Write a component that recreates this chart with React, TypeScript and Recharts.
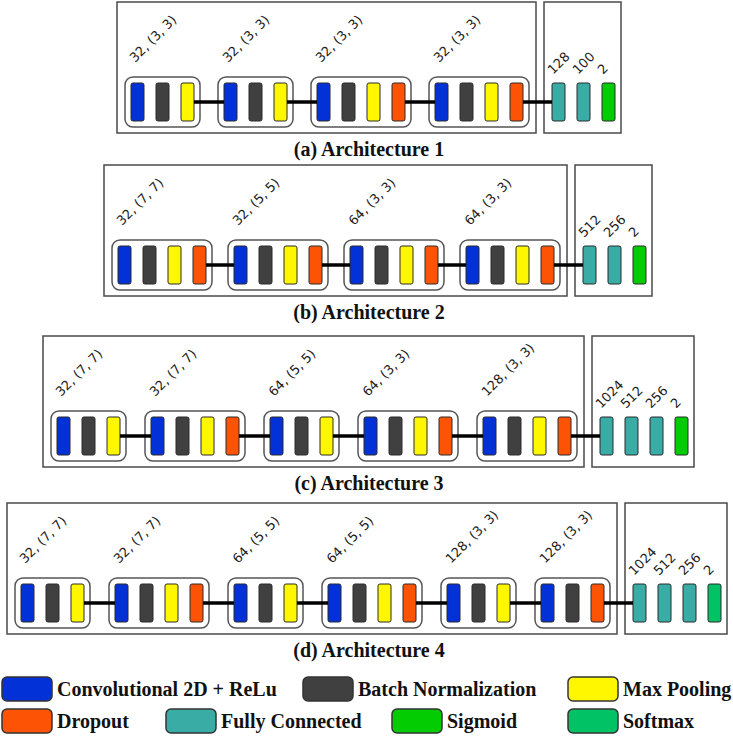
import React from 'react';
import {
  ComposedChart,
  XAxis,
  YAxis,
  ReferenceArea,
  ReferenceLine,
  ReferenceDot,
} from 'recharts';

const W = 733;
const H = 736;

// network description
const captions = ['(a) Architecture 1', '(b) Architecture 2', '(c) Architecture 3', '(d) Architecture 4'];

const arch1Filters = ['32, (3, 3)', '32, (3, 3)', '32, (3, 3)', '32, (3, 3)'];
const arch1Blocks = [
  ['conv', 'bn', 'pool'],
  ['conv', 'bn', 'pool'],
  ['conv', 'bn', 'pool', 'drop'],
  ['conv', 'bn', 'pool', 'drop'],
];
const arch1Dense = ['128', '100', '2'];

const arch2Filters = ['32, (7, 7)', '32, (5, 5)', '64, (3, 3)', '64, (3, 3)'];
const arch2Blocks = [
  ['conv', 'bn', 'pool', 'drop'],
  ['conv', 'bn', 'pool', 'drop'],
  ['conv', 'bn', 'pool', 'drop'],
  ['conv', 'bn', 'pool', 'drop'],
];
const arch2Dense = ['512', '256', '2'];

const arch3Filters = ['32, (7, 7)', '32, (7, 7)', '64, (5, 5)', '64, (3, 3)', '128, (3, 3)'];
const arch3Blocks = [
  ['conv', 'bn', 'pool'],
  ['conv', 'bn', 'pool', 'drop'],
  ['conv', 'bn', 'pool'],
  ['conv', 'bn', 'pool', 'drop'],
  ['conv', 'bn', 'pool', 'drop'],
];
const arch3Dense = ['1024', '512', '256', '2'];

const arch4Filters = ['32, (7, 7)', '32, (7, 7)', '64, (5, 5)', '64, (5, 5)', '128, (3, 3)', '128, (3, 3)'];
const arch4Blocks = [
  ['conv', 'bn', 'pool'],
  ['conv', 'bn', 'pool', 'drop'],
  ['conv', 'bn', 'pool'],
  ['conv', 'bn', 'pool', 'drop'],
  ['conv', 'bn', 'pool'],
  ['conv', 'bn', 'drop'],
];
const arch4Dense = ['1024', '512', '256', '2'];

const outputs = ['sigmoid', 'sigmoid', 'sigmoid', 'softmax'];

const legendKeys = ['conv', 'bn', 'pool', 'drop', 'fc', 'sigmoid', 'softmax'];
const legendNames = [
  'Convolutional 2D + ReLu',
  'Batch Normalization',
  'Max Pooling',
  'Dropout',
  'Fully Connected',
  'Sigmoid',
  'Softmax',
];

const archs = [
  { filters: arch1Filters, blocks: arch1Blocks, dense: arch1Dense },
  { filters: arch2Filters, blocks: arch2Blocks, dense: arch2Dense },
  { filters: arch3Filters, blocks: arch3Blocks, dense: arch3Dense },
  { filters: arch4Filters, blocks: arch4Blocks, dense: arch4Dense },
];

const COLORS: Record<string, string> = {
  conv: '#0231d8',
  bn: '#404040',
  pool: '#fff700',
  drop: '#fc5304',
  fc: '#38aca5',
  sigmoid: '#03cc03',
  softmax: '#02c266',
};

// layout (in chart units, 1 unit = 1px)
const ROW_TOP = [2, 165, 336, 503];
const ROW_X0 = [131, 118, 57, 21];
const ROW_GAP = [43, 41, 44, 44];
const LAYER_W = 13;
const PITCH = 25;
const CAPTION_X = 369;
const LEGEND_X = [2, 303, 568, 2, 166, 392, 568];
const LEGEND_Y = [677, 677, 677, 709, 709, 709, 709];

type Box = { x1: number; x2: number; y1: number; y2: number; fill: string; stroke: string; sw: number; rx: number };
type Seg = { x1: number; x2: number; y: number };
type Txt = { x: number; y: number; text: string; kind: 'layer' | 'caption' | 'legend' };

const rectShape = (rx: number) => (p: any) => (
  <rect
    x={p.x}
    y={p.y}
    width={p.width}
    height={p.height}
    rx={rx}
    ry={rx}
    fill={p.fill}
    stroke={p.stroke}
    strokeWidth={p.strokeWidth}
  />
);

const textShape = (t: Txt) => (p: any) => {
  if (t.kind === 'layer') {
    return (
      <text
        x={p.cx}
        y={p.cy}
        transform={`rotate(-45 ${p.cx} ${p.cy})`}
        fontFamily="'DejaVu Sans', sans-serif"
        fontSize={13}
        fill="#1a1a1a"
      >
        {t.text}
      </text>
    );
  }
  return (
    <text
      x={p.cx}
      y={p.cy}
      textAnchor={t.kind === 'caption' ? 'middle' : 'start'}
      dominantBaseline="central"
      fontFamily="'Liberation Serif', 'Times New Roman', serif"
      fontWeight="bold"
      fontSize={20}
      fill="#111"
    >
      {t.text}
    </text>
  );
};

function buildLayout() {
  const boxes: Box[] = [];
  const frames: Box[] = [];
  const layers: Box[] = [];
  const segs: Seg[] = [];
  const texts: Txt[] = [];

  archs.forEach((a, i) => {
    const T = ROW_TOP[i];
    const lTop = T + 81;
    const lBot = T + 119;
    const mid = T + 100;
    let x = ROW_X0[i];
    let prevEnd: number | null = null;

    a.blocks.forEach((blk, b) => {
      const first = x;
      const last = x + (blk.length - 1) * PITCH;
      if (prevEnd !== null) segs.push({ x1: prevEnd, x2: first, y: mid });
      boxes.push({ x1: first - 6, x2: last + LAYER_W + 6, y1: T + 75, y2: T + 125, fill: '#fff', stroke: '#555', sw: 1.5, rx: 8 });
      blk.forEach((k, j) => {
        const lx = first + j * PITCH;
        layers.push({ x1: lx, x2: lx + LAYER_W, y1: lTop, y2: lBot, fill: COLORS[k], stroke: '#2b2b2b', sw: 1, rx: 2 });
      });
      texts.push({ x: first + 4, y: T + 61, text: a.filters[b], kind: 'layer' });
      prevEnd = last + LAYER_W;
      x = last + ROW_GAP[i];
    });

    const lastConv = x - ROW_GAP[i];
    frames.push({ x1: ROW_X0[i] - 14, x2: lastConv + 26, y1: T, y2: T + 131, fill: '#fff', stroke: '#4a4a4a', sw: 1.5, rx: 0 });

    const fc0 = lastConv + 42;
    segs.push({ x1: lastConv + LAYER_W, x2: fc0, y: mid });
    a.dense.forEach((u, j) => {
      const lx = fc0 + j * PITCH;
      const kind = j === a.dense.length - 1 ? outputs[i] : 'fc';
      layers.push({ x1: lx, x2: lx + LAYER_W, y1: lTop, y2: lBot, fill: COLORS[kind], stroke: '#2b2b2b', sw: 1, rx: 2 });
      texts.push({ x: lx + 1, y: lTop - 8, text: u, kind: 'layer' });
    });
    const fcEnd = fc0 + (a.dense.length - 1) * PITCH + LAYER_W;
    frames.push({ x1: lastConv + 34, x2: fcEnd + 6, y1: T, y2: T + 131, fill: '#fff', stroke: '#4a4a4a', sw: 1.5, rx: 0 });

    texts.push({ x: CAPTION_X, y: T + 147, text: captions[i], kind: 'caption' });
  });

  legendKeys.forEach((k, i) => {
    const lx = LEGEND_X[i];
    const ly = LEGEND_Y[i];
    layers.push({ x1: lx, x2: lx + 50, y1: ly, y2: ly + 24, fill: COLORS[k], stroke: '#333', sw: 1.5, rx: 5 });
    texts.push({ x: lx + 55, y: ly + 12, text: legendNames[i], kind: 'legend' });
  });

  return { frames, boxes, layers, segs, texts };
}

export default function App() {
  const { frames, boxes, layers, segs, texts } = buildLayout();
  const area = (r: Box, key: string) => (
    <ReferenceArea
      key={key}
      x1={r.x1}
      x2={r.x2}
      y1={r.y1}
      y2={r.y2}
      fill={r.fill}
      fillOpacity={1}
      stroke={r.stroke}
      strokeWidth={r.sw}
      shape={rectShape(r.rx)}
      ifOverflow="visible"
    />
  );

  return (
    <div style={{ position: 'absolute', left: 0, top: 0, background: '#fff' }}>
      <ComposedChart width={W} height={H} margin={{ top: 0, right: 0, bottom: 0, left: 0 }}>
        <XAxis type="number" dataKey="x" domain={[0, W]} allowDataOverflow hide />
        <YAxis type="number" dataKey="y" domain={[0, H]} allowDataOverflow reversed hide />
        {frames.map((r, i) => area(r, `f${i}`))}
        {boxes.map((r, i) => area(r, `b${i}`))}
        {segs.map((s, i) => (
          <ReferenceLine
            key={`s${i}`}
            segment={[{ x: s.x1, y: s.y }, { x: s.x2, y: s.y }]}
            stroke="#000"
            strokeWidth={3.5}
            ifOverflow="visible"
          />
        ))}
        {layers.map((r, i) => area(r, `l${i}`))}
        {texts.map((t, i) => (
          <ReferenceDot key={`t${i}`} x={t.x} y={t.y} r={0} shape={textShape(t)} ifOverflow="visible" />
        ))}
      </ComposedChart>
    </div>
  );
}
